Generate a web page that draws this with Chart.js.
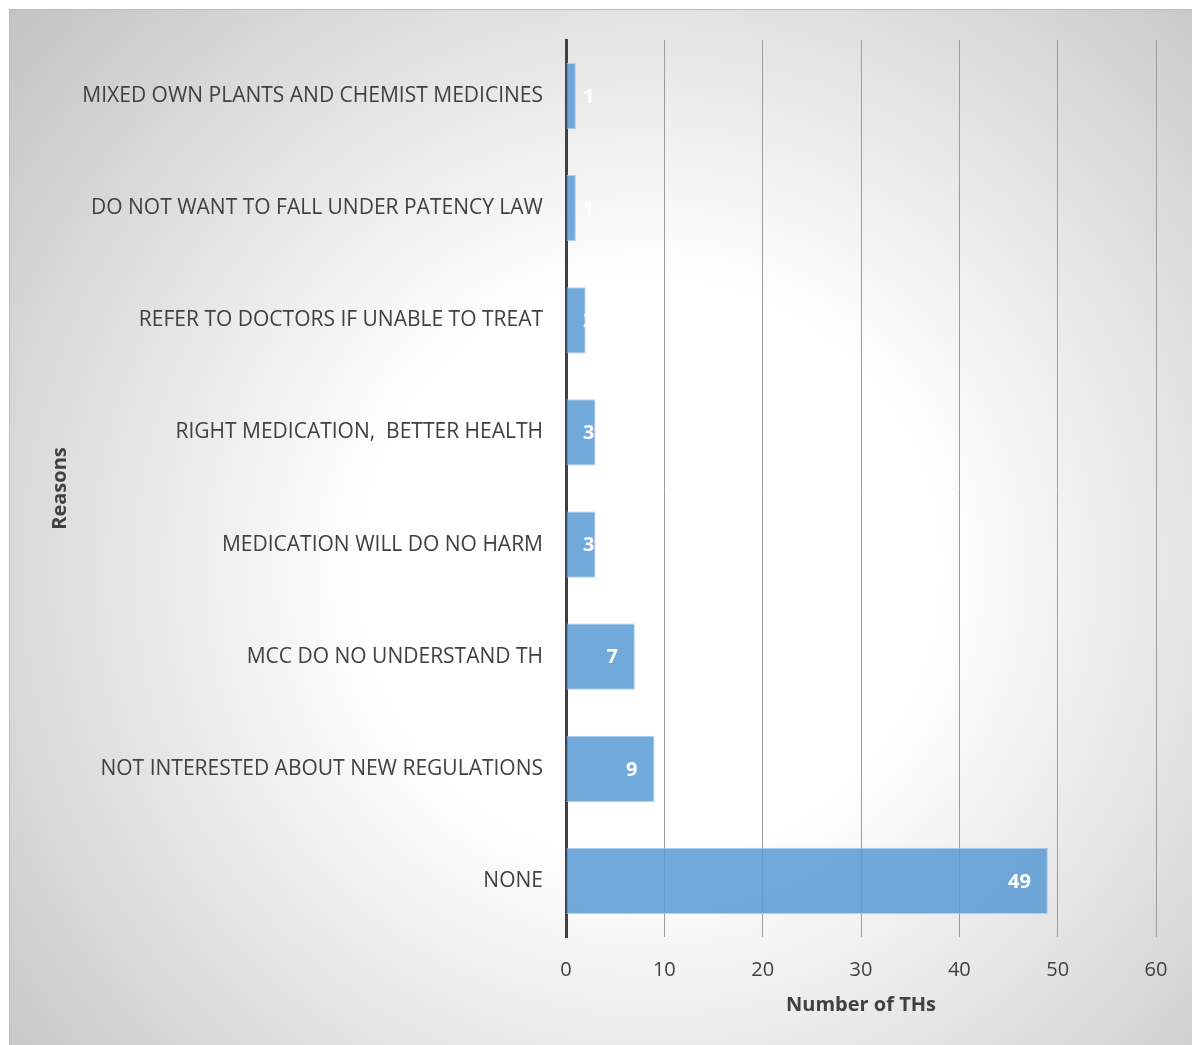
<!DOCTYPE html>
<html>
<head>
<meta charset="utf-8">
<script src="https://cdn.jsdelivr.net/npm/chart.js@4.4.1/dist/chart.umd.min.js"></script>
<style>
  html, body { margin: 0; padding: 0; background: #ffffff; overflow: hidden; }
  #frame {
    position: absolute;
    left: 9px;
    top: 9px;
    width: 1184px;
    height: 1035px;
    border: 1px solid #bcbcbc;
    background: radial-gradient(circle at 640px 560px, #ffffff 0px, #ffffff 290px, #c4c4c4 840px);
  }
  #chartcanvas { position: absolute; left: 0; top: 0; }
</style>
</head>
<body>
<div id="frame">
  <canvas id="chartcanvas" width="1182" height="1034"></canvas>
</div>
<script>
const reasons = [
  'MIXED OWN PLANTS AND CHEMIST MEDICINES',
  'DO NOT WANT TO FALL UNDER PATENCY LAW',
  'REFER TO DOCTORS IF UNABLE TO TREAT',
  'RIGHT MEDICATION,  BETTER HEALTH',
  'MEDICATION WILL DO NO HARM',
  'MCC DO NO UNDERSTAND TH',
  'NOT INTERESTED ABOUT NEW REGULATIONS',
  'NONE'
];
const thCounts = [1, 1, 2, 3, 3, 7, 9, 49];
const xTicks = [0, 10, 20, 30, 40, 50, 60];

const fontFamily = "'Open Sans', 'DejaVu Sans', sans-serif";
const textColor = '#404040';

// white value labels at the inner end of each bar, kept clear of the axis for short bars
const barLabels = {
  id: 'barLabels',
  afterDatasetsDraw(chart) {
    const c = chart.ctx;
    const meta = chart.getDatasetMeta(0);
    c.save();
    c.font = 'bold 20px ' + fontFamily;
    c.fillStyle = '#ffffff';
    c.textAlign = 'right';
    c.textBaseline = 'middle';
    meta.data.forEach(function(bar, i) {
      const right = Math.max(bar.x - 17, bar.base + 28);
      c.fillText(String(thCounts[i]), right, bar.y + 1);
    });
    c.restore();
  }
};

const canvas = document.getElementById('chartcanvas');
const ctx = canvas.getContext('2d');

const barChart = new Chart(ctx, {
  type: 'bar',
  data: {
    labels: reasons,
    datasets: [{
      data: thCounts,
      backgroundColor: 'rgba(91, 155, 213, 0.86)',
      borderColor: 'rgba(170, 203, 235, 0.9)',
      borderWidth: 1,
      barPercentage: 0.59,
      categoryPercentage: 1.0
    }]
  },
  options: {
    indexAxis: 'y',
    responsive: false,
    animation: false,
    layout: {
      padding: { left: 0, top: 30, right: 36, bottom: 0 }
    },
    scales: {
      x: {
        type: 'linear',
        min: 0,
        max: 60,
        afterBuildTicks: function(axis) {
          axis.ticks = xTicks.map(function(v) { return { value: v }; });
        },
        afterFit: function(axis) { axis.height = 107; },
        grid: {
          color: '#9c9c9c',
          lineWidth: 1,
          drawTicks: false
        },
        border: { display: false },
        ticks: {
          padding: 21,
          color: textColor,
          font: { family: fontFamily, size: 20 }
        },
        title: {
          display: true,
          text: 'Number of THs',
          color: textColor,
          padding: { top: 0, bottom: 27 },
          font: { family: fontFamily, size: 20, weight: 'bold' }
        }
      },
      y: {
        afterFit: function(axis) { axis.width = 556; },
        // invisible tick marks give the label gap without padding the top of the chart area
        grid: {
          display: true,
          drawOnChartArea: false,
          drawTicks: true,
          tickLength: 20,
          tickColor: 'rgba(0, 0, 0, 0)',
          color: 'rgba(0, 0, 0, 0)'
        },
        border: { display: true, color: '#404040', width: 3 },
        ticks: {
          padding: 3,
          color: textColor,
          font: { family: fontFamily, size: 21 }
        },
        title: {
          display: true,
          text: 'Reasons',
          color: textColor,
          padding: { top: 38, bottom: 0 },
          font: { family: fontFamily, size: 20, weight: 'bold' }
        }
      }
    },
    plugins: {
      legend: { display: false },
      tooltip: { enabled: false }
    }
  },
  plugins: [barLabels]
});
</script>
</body>
</html>
